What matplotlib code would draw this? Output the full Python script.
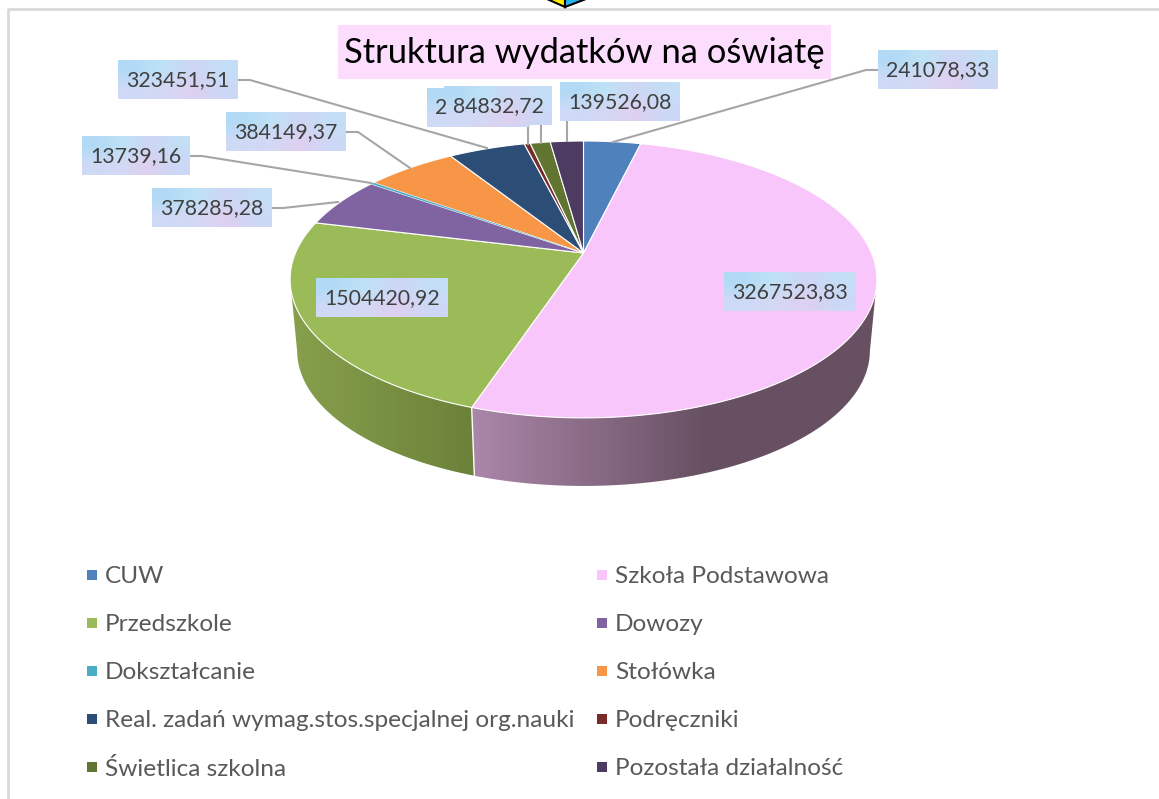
import matplotlib
matplotlib.use("Agg")
import matplotlib.pyplot as plt
import numpy as np
from matplotlib.patches import Polygon, Rectangle

plt.rcParams["font.family"] = ["Lato", "DejaVu Sans"]

# Dane
categories = ["CUW", "Szkoła Podstawowa", "Przedszkole", "Dowozy", "Dokształcanie", "Stołówka",
              "Real. zadań wymag.stos.specjalnej org.nauki", "Podręczniki", "Świetlica szkolna",
              "Pozostała działalność"]
values = [241078.33, 3267523.83, 1504420.92, 378285.28, 13739.16, 384149.37, 323451.51, 25000.0,
          84832.72, 139526.08]
value_labels = ["241078,33", "3267523,83", "1504420,92", "378285,28", "13739,16", "384149,37",
                "323451,51", "2", "84832,72", "139526,08"]
colors = ["#4F81BD", "#F9C6FB", "#9BBB59", "#8064A2", "#4BACC6", "#F79646", "#2C4D75", "#772C2A",
          "#5F7530", "#4D3B62"]

# Układ: ramka etykiety (x0, x1, y0, y1), w kolejności rysowania
label_boxes = {
    0: (878, 998, 50, 89),
    1: (724, 856, 272, 311),
    2: (316, 448, 278, 317),
    3: (152, 272, 188, 227),
    4: (82, 190, 136, 175),
    5: (226, 346, 112, 151),
    6: (118, 238, 60, 99),
    7: (427, 530, 88, 127),
    8: (444, 552, 86, 125),
    9: (560, 680, 82, 121),
}
leaders = {
    0: [(878, 70), (866, 70), (613, 142)],
    3: [(272, 208), (283, 208), (338, 202)],
    4: [(190, 156), (202, 156), (371, 183)],
    5: [(346, 132), (358, 132), (410, 168)],
    6: [(238, 80), (250, 80), (487, 148)],
    7: [(528, 127), (528, 144)],
    8: [(541, 125), (541, 143)],
    9: [(567, 121), (567, 141)],
}

# Rzut perspektywiczny koła
CX, APEX_Y, A, B, K = 583.5, 253.0, 288.0, 133.4, -0.191
BOTTOM_SCALE, BOTTOM_Y = 0.976, 325.0


def project(theta, scale=1.0, apex_y=APEX_Y):
    u, v = np.sin(theta), -np.cos(theta)
    w = 1 + K * v
    return CX + scale * A * u / w, apex_y + scale * B * v / w


def add_gradient(ax, pixels, extent, clip=None, interpolation="bilinear"):
    im = ax.imshow(np.array(pixels, dtype=float) / 255, extent=extent, aspect="auto",
                   interpolation=interpolation, zorder=clip.get_zorder() if clip else 6)
    if clip is not None:
        im.set_clip_path(clip)


fig = plt.figure(figsize=(11.59, 7.99), dpi=100)
ax = fig.add_axes([0, 0, 1, 1])

edges = np.concatenate([[0], np.cumsum(values)]) / np.sum(values) * 2 * np.pi

# Ściany boczne (widoczne tylko Szkoła Podstawowa i Przedszkole)
wall_colors = {
    1: [[(172, 135, 170), (103, 80, 98), (103, 80, 98)]],
    2: [[(135, 160, 76), (108, 130, 58)]],
}
wall_extents = {1: (352.5, 1063.5, 490, 270), 2: (199.5, 561.5, 490, 270)}
for i in wall_colors:
    t = np.linspace(edges[i], edges[i + 1], 400)
    x1, _ = project(t)
    # tylko do punktów stycznych, inaczej wielokąt sam się znosi przy brzegu
    t = t[np.argmax(x1):np.argmin(x1) + 1]
    x1, y1 = project(t)
    x2, y2 = project(t, BOTTOM_SCALE, BOTTOM_Y)
    pts = np.column_stack([np.r_[x1, x2[::-1]], np.r_[y1, y2[::-1]]])
    wall = Polygon(pts, closed=True, facecolor="none", edgecolor="none", zorder=2)
    ax.add_patch(wall)
    add_gradient(ax, wall_colors[i], wall_extents[i], clip=wall)

# Biała krawędź między ścianami
x1, y1 = project(edges[2])
x2, y2 = project(edges[2], BOTTOM_SCALE, BOTTOM_Y)
ax.plot([x1, x2], [y1, y2], color="white", lw=1.0, zorder=3)

# Górna powierzchnia
for i, color in enumerate(colors):
    t = np.linspace(edges[i], edges[i + 1], 120)
    x, y = project(t)
    pts = np.column_stack([np.r_[CX, x], np.r_[APEX_Y, y]])
    # bardzo wąski wycinek bez krawędzi, żeby nie zniknął pod białą linią
    thin = values[i] < 20000
    ax.add_patch(Polygon(pts, closed=True, facecolor=color, edgecolor="none" if thin else "white",
                         lw=0.8, zorder=4.5 if thin else 4, joinstyle="round"))

# Linie odniesienia
for pts in leaders.values():
    xs, ys = zip(*pts)
    ax.plot(xs, ys, color="#A6A6A6", lw=1.5, zorder=5, solid_joinstyle="round")

# Etykiety danych
box_pixels = [[(178, 218, 246), (190, 226, 246), (206, 214, 244), (196, 222, 246)],
              [(206, 218, 246), (212, 216, 244), (222, 208, 240), (204, 216, 246)]]
for i, (bx0, bx1, by0, by1) in label_boxes.items():
    add_gradient(ax, box_pixels, (bx0, bx1, by1, by0))
    if i == 7:
        ax.text(bx0 + 8, (by0 + by1) / 2 + 1, value_labels[i], fontsize=15.3, color="#404040",
                ha="left", va="center", zorder=7)
    else:
        ax.text((bx0 + bx1) / 2, (by0 + by1) / 2 + 1, value_labels[i], fontsize=15.3, color="#404040",
                ha="center", va="center", zorder=7)

# Tytuł
ax.add_patch(Rectangle((338, 25), 493, 54, facecolor="#FCDDFD", edgecolor="none", zorder=1))
ax.text(584, 53, "Struktura wydatków na oświatę", fontsize=24.8, color="black", ha="center",
        va="center", zorder=2)

# Legenda
rows = [575, 623, 671, 719, 767]
for i, name in enumerate(categories):
    marker_x, text_x = (87, 105) if i % 2 == 0 else (597, 615)
    y = rows[i // 2]
    ax.add_patch(Rectangle((marker_x, y - 5), 10, 10, facecolor=colors[i], edgecolor="none"))
    ax.text(text_x, y + 1.5, name, fontsize=17.6, color="#595959", ha="left", va="center")

# Ramka wykresu
ax.plot([7.5, 7.5, 1159], [799, 9, 9], color="#D9D9D9", lw=2, zorder=1)

# Fragment ikony nad wykresem
ax.add_patch(Polygon([(547, -1), (565, 7), (565, -1)], closed=True, facecolor="#FFF200",
                     edgecolor="black", lw=1.5, zorder=8))
ax.add_patch(Polygon([(565, -1), (565, 7), (586, -1)], closed=True, facecolor="#29B6F2",
                     edgecolor="black", lw=1.5, zorder=8))

ax.set_xlim(0, 1159)
ax.set_ylim(799, 0)
ax.axis("off")

fig.savefig("out.png", dpi=100, facecolor="white")
plt.close(fig)
